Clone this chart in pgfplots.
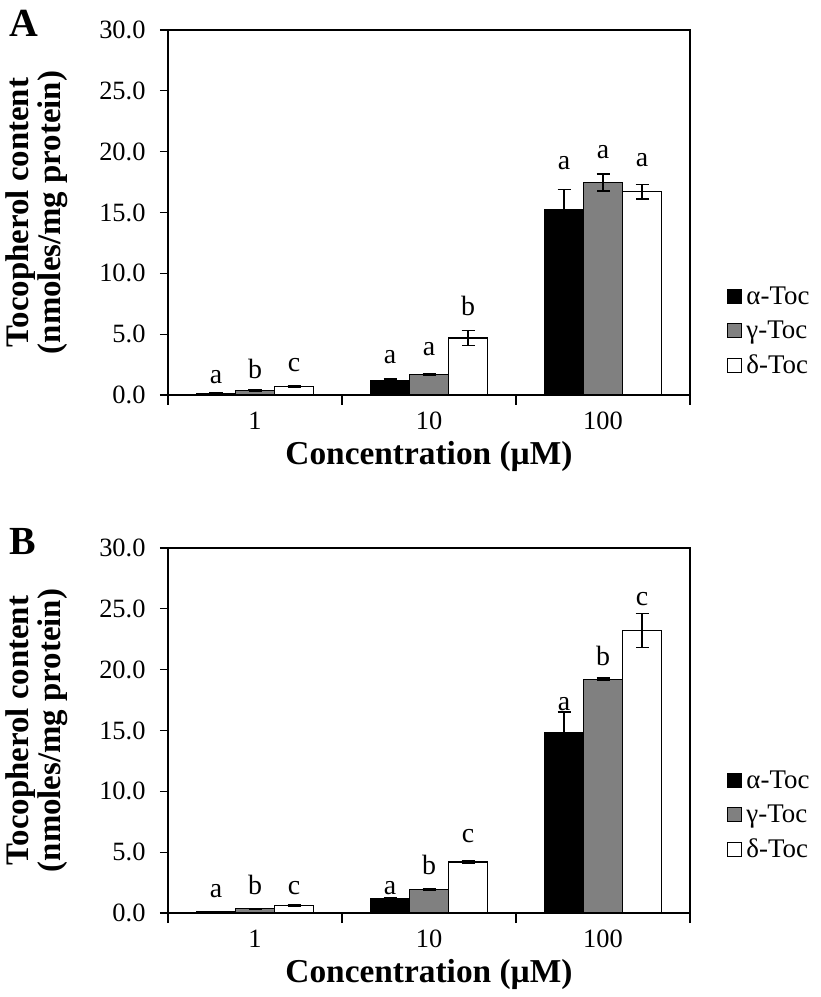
\documentclass[border=0pt]{standalone}
\usepackage{pgfplots}
\pgfplotsset{compat=1.18}
\usepackage{fontspec}
\setmainfont{Liberation Serif}
\definecolor{midgray}{RGB}{128,128,128}
\pgfplotsset{
  panel/.style={
    scale only axis, width=522bp, height=365bp,
    ybar=0pt, bar width=39bp,
    xmin=-0.5, xmax=2.5, ymin=0, ymax=30,
    xtick={0,1,2}, xticklabels={1,10,100},
    minor xtick={-0.5,0.5,1.5,2.5},
    major x tick style={draw=none},
    minor tick length=10bp,
    ytick={0,5,10,15,20,25,30},
    major tick length=8bp,
    tick align=outside, xtick pos=bottom, ytick pos=left,
    axis line style={line width=1.4bp},
    every tick/.style={black, line width=1.3bp},
    /pgf/number format/assume math mode=true,
    yticklabel={\pgfmathprintnumber[fixed,fixed zerofill,precision=1]{\tick}},
    tick label style={font=\fontsize{26.5}{30}\selectfont},
    xticklabel style={inner sep=0pt, yshift=-9bp},
    yticklabel style={xshift=-11bp},
    ylabel={Tocopherol content\\(nmoles/mg protein)},
    ylabel style={at={(axis description cs:-0.251,0.5)}, anchor=center, align=center, font=\bfseries\fontsize{33}{32}\selectfont},
    xlabel={Concentration (µM)},
    xlabel style={at={(axis description cs:0.5,-0.19)}, anchor=base, inner sep=0pt, font=\bfseries\fontsize{33.5}{32}\selectfont},
    legend cell align=left,
    legend style={draw=none, fill=none, font=\fontsize{27}{30}\selectfont, row sep=15bp, inner sep=0pt,
      nodes={inner sep=0pt}, column sep=4bp},
    legend image code/.code={\draw[#1, line width=1.2bp] (0bp,-7bp) rectangle (14bp,7bp);},
    error bars/y dir=both, error bars/y explicit,
    error bars/error mark options={rotate=90, mark size=6.5bp, line width=1.4bp, black},
    error bars/error bar style={line width=1.4bp, black},
  },
  s1/.style={fill=black, draw=black, line width=1.2bp},
  s2/.style={fill=midgray, draw=black, line width=1.2bp},
  s3/.style={fill=white, draw=black, line width=1.2bp},
}
\newcommand{\lett}[2]{\node[anchor=base, inner sep=0pt, font=\fontsize{28}{30}\selectfont] at (axis cs:#1) {#2};}
\begin{document}
\begin{tikzpicture}
\useasboundingbox (0,0) rectangle (821bp,997bp);
\node[anchor=base west, inner sep=0pt, font=\bfseries\fontsize{40}{40}\selectfont] at (9bp,960bp) {A};
\node[anchor=base west, inner sep=0pt, font=\bfseries\fontsize{40}{40}\selectfont] at (9bp,442bp) {B};
% Panel A
\begin{axis}[panel, at={(168bp,602bp)}, anchor=south west,
  legend style={at={(axis description cs:1.071,0.175)}, anchor=west}]
\addplot[s1] coordinates {(0,0.12) +- (0,0.05) (1,1.20) +- (0,0.10) (2,15.2) +- (0,1.7)};
\addplot[s2] coordinates {(0,0.38) +- (0,0.05) (1,1.68) +- (0,0.10) (2,17.45) +- (0,0.7)};
\addplot[s3] coordinates {(0,0.72) +- (0,0.08) (1,4.68) +- (0,0.6) (2,16.7) +- (0,0.6)};
\legend{α-Toc, γ-Toc, δ-Toc}
\lett{-0.224,0.95}{a}\lett{0,1.36}{b}\lett{0.224,1.91}{c}
\lett{0.776,2.57}{a}\lett{1,3.26}{a}\lett{1.224,6.55}{b}
\lett{1.776,18.5}{a}\lett{2,19.4}{a}\lett{2.224,18.8}{a}
\end{axis}
% Panel B
\begin{axis}[panel, at={(168bp,84bp)}, anchor=south west,
  legend style={at={(axis description cs:1.071,0.268)}, anchor=west}]
\addplot[s1] coordinates {(0,0.09) +- (0,0.05) (1,1.16) +- (0,0.08) (2,14.86) +- (0,1.65)};
\addplot[s2] coordinates {(0,0.36) +- (0,0.03) (1,1.93) +- (0,0.10) (2,19.2) +- (0,0.1)};
\addplot[s3] coordinates {(0,0.64) +- (0,0.05) (1,4.19) +- (0,0.08) (2,23.2) +- (0,1.4)};
\legend{α-Toc, γ-Toc, δ-Toc}
\lett{-0.224,1.24}{a}\lett{0,1.52}{b}\lett{0.224,1.52}{c}
\lett{0.776,1.52}{a}\lett{1,3.17}{b}\lett{1.224,5.78}{c}
\lett{1.776,16.66}{a}\lett{2,20.37}{b}\lett{2.224,25.3}{c}
\end{axis}
\end{tikzpicture}
\end{document}
